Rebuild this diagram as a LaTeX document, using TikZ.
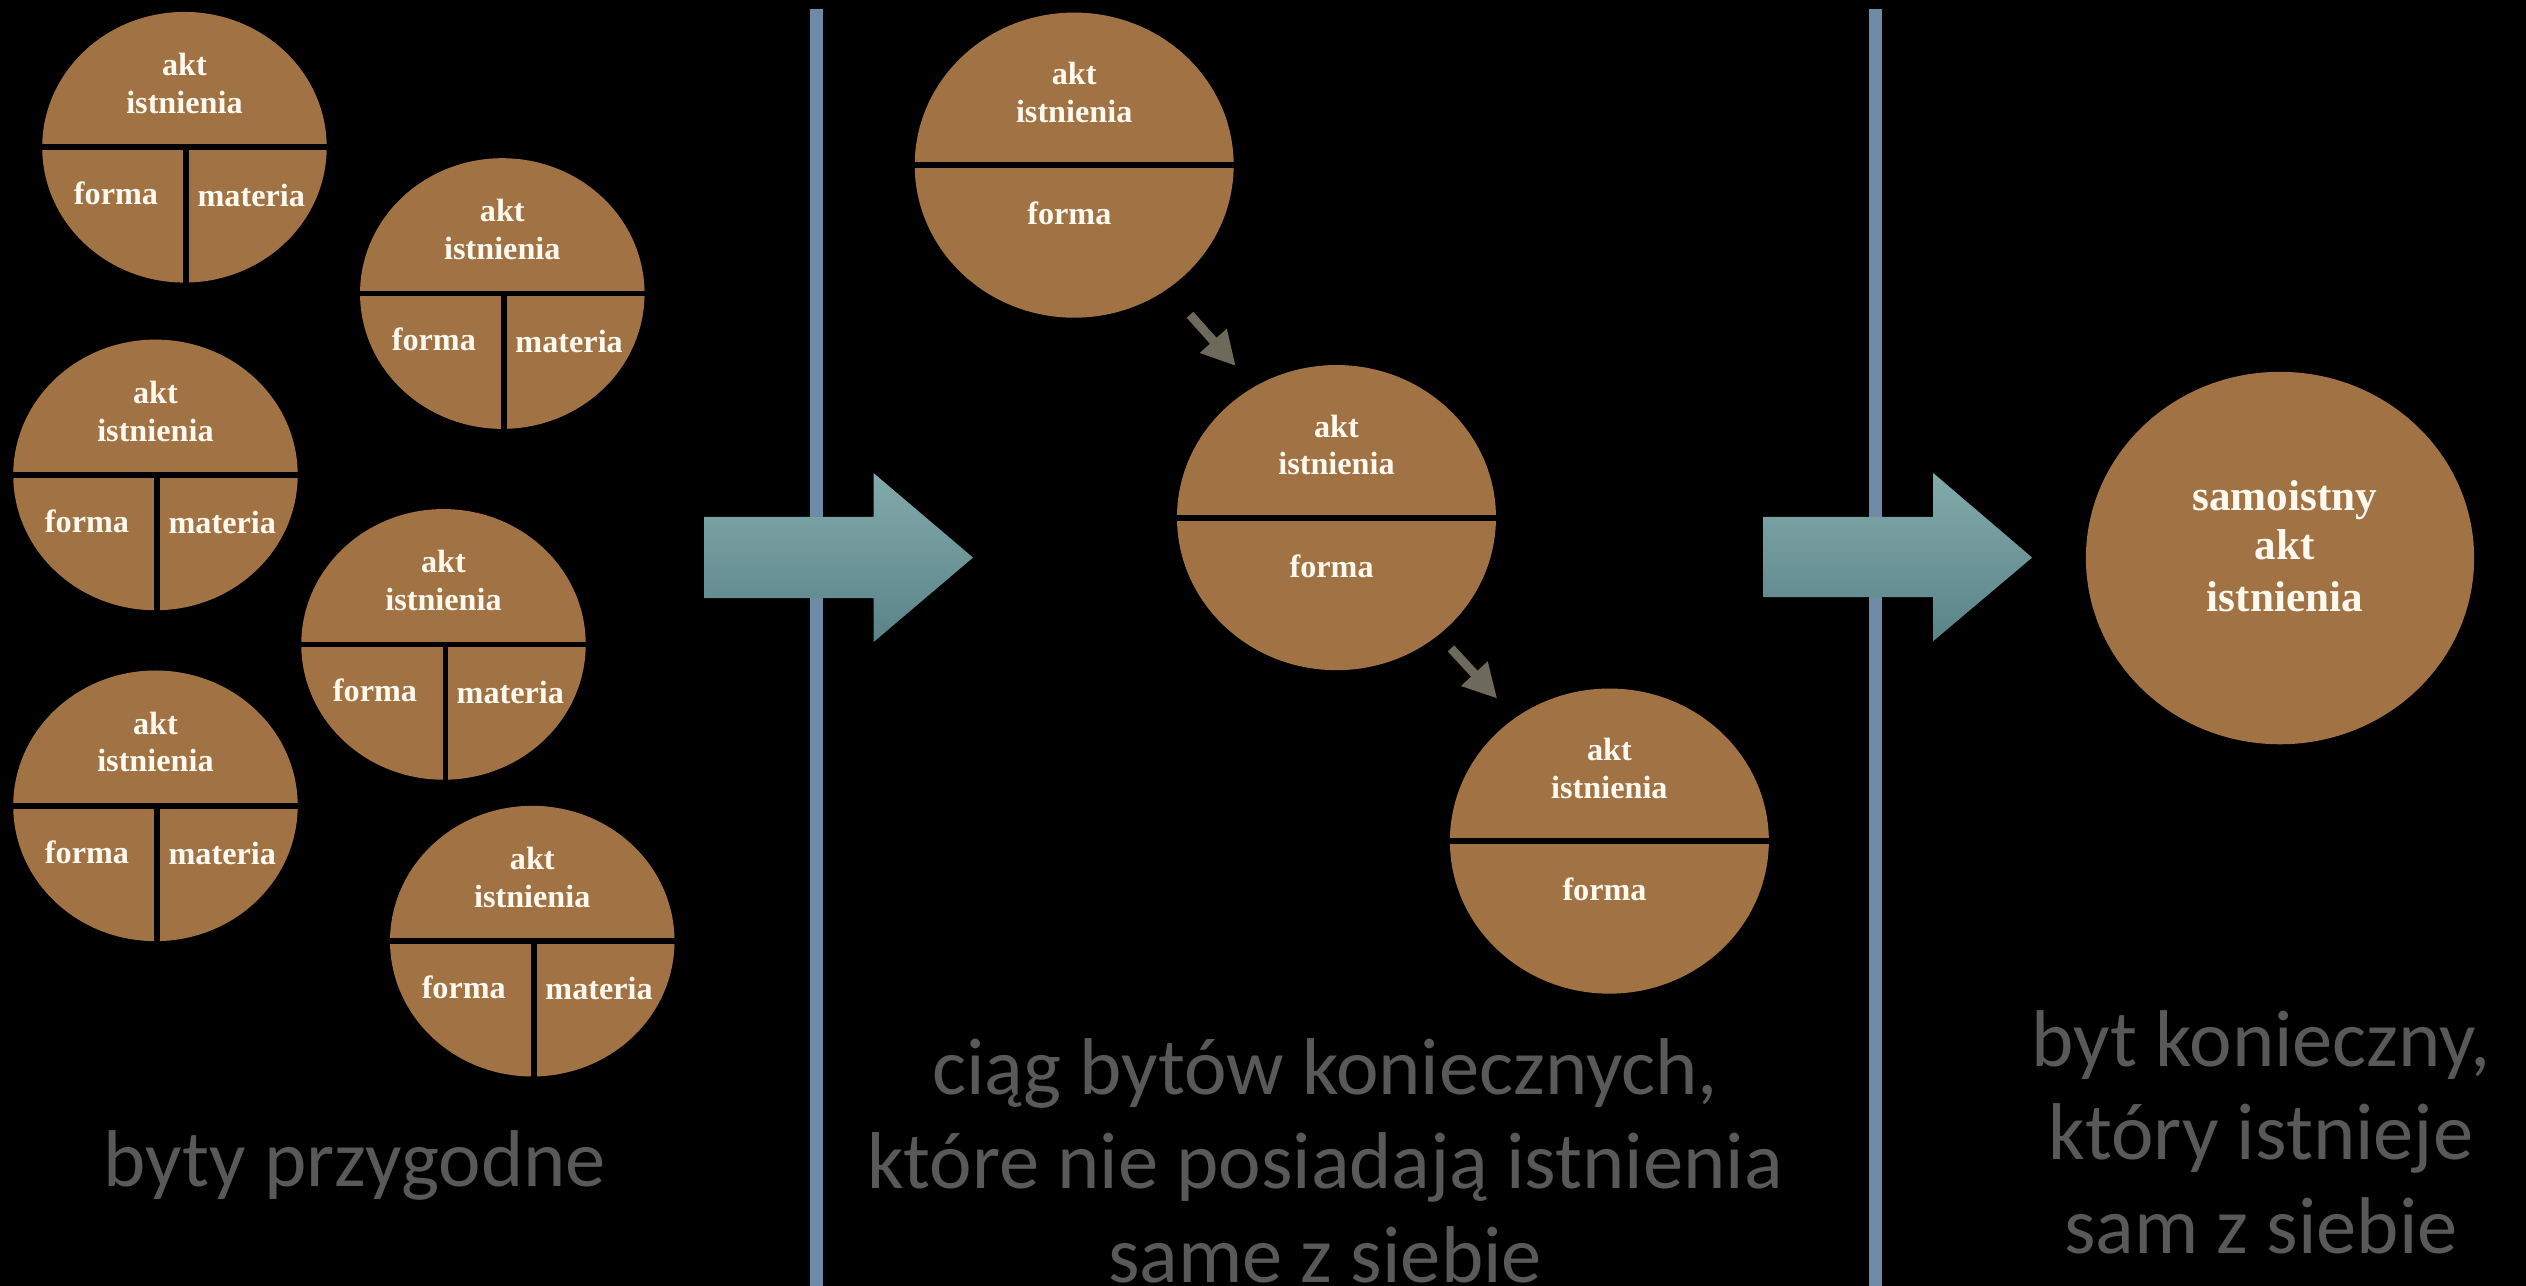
\documentclass[tikz,border=0pt]{standalone}
\usepackage{fontspec}
\setmainfont{Liberation Serif}
\newfontfamily\capfont{Carlito}
\usetikzlibrary{calc,shapes.geometric,arrows.meta}
\definecolor{brownfill}{HTML}{A17344}
\definecolor{txtcream}{HTML}{FFF9F0}
\definecolor{sepblue}{HTML}{6D8AA6}
\definecolor{arrtop}{HTML}{82AAAA}
\definecolor{arrbot}{HTML}{5A8389}
\definecolor{smallarr}{HTML}{6E6A5B}
\definecolor{captiongray}{HTML}{595959}
\tikzset{
  ellbase/.style={ellipse, fill=brownfill, draw=none, inner sep=0pt},
  ellsmall/.style={ellbase, minimum width=88.3pt, minimum height=84pt},
  ellmid/.style={ellbase, minimum width=99pt, minimum height=94.7pt},
  ellbig/.style={ellbase, minimum width=120.5pt, minimum height=115.6pt},
  divider/.style={draw=black, line width=1.8pt},
  elltext/.style={text=txtcream, font=\fontsize{10}{12}\selectfont\bfseries, inner sep=0pt, anchor=base},
  bigtext/.style={text=txtcream, font=\fontsize{13.4}{16}\selectfont\bfseries, inner sep=0pt, anchor=base},
  caption/.style={text=captiongray, font=\capfont\fontsize{25}{29}\selectfont, inner sep=0pt, anchor=base},
  sepline/.style={draw=sepblue, line width=4pt},
  smallarrow/.style={draw=smallarr, line width=2.75pt, -{Triangle[width=10.5pt,length=10.5pt]}},
  bigarrow/.style={top color=arrtop, bottom color=arrbot, draw=none}
}
\newcommand\bytfour[3]{%
  \node[ellsmall] (#1) at (#2,#3) {};
  \draw[divider] ([xshift=-1pt]#1.west) -- ([xshift=1pt]#1.east);
  \draw[divider] ([xshift=0.6pt]#1.center) -- ([xshift=0.6pt,yshift=-1pt]#1.south);
  \node[elltext] (#1-akt) at ($(#1)+(0,-44.5)$) {akt};
  \node[elltext] (#1-ist) at ($(#1)+(0,-21)$) {istnienia};
  \node[elltext] (#1-for) at ($(#1)+(-42.5,35.5)$) {forma};
  \node[elltext] (#1-mat) at ($(#1)+(41.5,36.5)$) {materia};
}
\newcommand\bytthree[3]{%
  \node[ellmid] (#1) at (#2,#3) {};
  \draw[divider] ([xshift=-1pt]#1.west) -- ([xshift=1pt]#1.east);
  \node[elltext] (#1-akt) at ($(#1)+(0,-50)$) {akt};
  \node[elltext] (#1-ist) at ($(#1)+(0,-26.5)$) {istnienia};
  \node[elltext] (#1-for) at ($(#1)+(-3,37)$) {forma};
}
\begin{document}
\begin{tikzpicture}[x=0.5pt,y=-0.5pt]
  \fill[black] (0,0) rectangle (1568,798);
  \useasboundingbox (0,0) rectangle (1568,798);
  % separators
  \coordinate (s1t) at (506.7,5.5);
  \coordinate (s1b) at (506.7,798);
  \coordinate (s2t) at (1164.2,5.5);
  \coordinate (s2b) at (1164.2,798);
  \draw[sepline] (s1t) -- (s1b);
  \draw[sepline] (s2t) -- (s2b);
  % contingent beings
  \bytfour{e1}{114.5}{91.4}
  \bytfour{e2}{311.8}{182.2}
  \bytfour{e3}{96.5}{294.8}
  \bytfour{e4}{275.3}{400}
  \bytfour{e5}{96.5}{500.2}
  \bytfour{e6}{330.4}{584.2}
  % chain
  \bytthree{ma}{666.8}{102.5}
  \bytthree{mb}{829.6}{321.3}
  \bytthree{mc}{999}{522.1}
  \coordinate (a1s) at (738.7,195.4);
  \coordinate (a1e) at (767.1,227.2);
  \coordinate (a2s) at (900.7,402.5);
  \coordinate (a2e) at (929.4,433.6);
  \draw[smallarrow] (a1s) -- (a1e);
  \draw[smallarrow] (a2s) -- (a2e);
  % necessary being
  \node[ellbig] (nb) at (1415.3,346.4) {};
  \node[bigtext] (nb1) at ($(nb)+(3,-29.8)$) {samoistny};
  \node[bigtext] (nb2) at ($(nb)+(3,1.2)$) {akt};
  \node[bigtext] (nb3) at ($(nb)+(3,33.3)$) {istnienia};
  % big arrows
  \shade[bigarrow] (437.3,320.9) -- (542.3,320.9) -- (542.3,293.7) -- (604,346.1)
     -- (542.3,398.5) -- (542.3,371.3) -- (437.3,371.3) -- cycle;
  \shade[bigarrow] (1094.6,320.8) -- (1200,320.8) -- (1200,293.6) -- (1261.4,346.1)
     -- (1200,398) -- (1200,370.6) -- (1094.6,370.6) -- cycle;
  % captions
  \node[caption] (c1) at (220.3,736.5) {byty przygodne};
  \node[caption] (c2a) at (822.5,679.3) {ciąg bytów koniecznych,};
  \node[caption] (c2b) at (822.5,737.6) {które nie posiadają istnienia};
  \node[caption] (c2c) at (822.5,795.9) {same z siebie};
  \node[caption] (c3a) at (1403.5,662.1) {byt konieczny,};
  \node[caption] (c3b) at (1403.5,720) {który istnieje};
  \node[caption] (c3c) at (1403.5,777.9) {sam z siebie};
\end{tikzpicture}
\end{document}
